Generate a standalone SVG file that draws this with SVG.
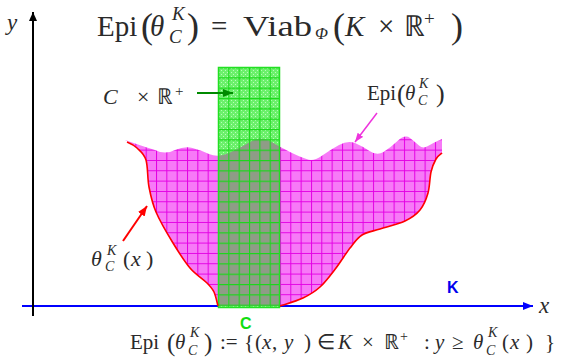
<svg xmlns="http://www.w3.org/2000/svg" xmlns:xlink="http://www.w3.org/1999/xlink" width="561" height="364" viewBox="0 0 561 364">
<style>
.m{font-family:"Liberation Serif","Times New Roman",Times,serif;fill:#2a2a2a}
.i{font-style:italic}
.s{font-family:"Liberation Sans",Arial,sans-serif;font-weight:bold}
</style>
<defs>
<pattern id="pinkPat" patternUnits="userSpaceOnUse" x="218" y="67" width="10.33" height="10.33">
<rect width="10.33" height="10.33" fill="#f77af7"/>
<path d="M0 0.5H10.33M0.5 0V10.33" stroke="#e400e4" stroke-width="1"/>
</pattern>
<pattern id="greenBase" patternUnits="userSpaceOnUse" x="218" y="67" width="4" height="4">
<rect width="4" height="4" fill="#6cf06c"/>
<rect x="1" y="1" width="1" height="1" fill="#b8ffb8"/>
<rect x="3" y="3" width="1" height="1" fill="#b8ffb8"/>
</pattern>
<pattern id="greenGrid" patternUnits="userSpaceOnUse" x="218" y="67" width="10.333" height="10.333">
<path d="M0 0.5H10.333M0.5 0V10.333" stroke="#1ad81a" stroke-width="1.2" fill="none"/>
</pattern>
<path id="epiShape" d="M125,140 L135,143.5 Q145,147 155,150 Q165,155 175,150 Q185,146 192.5,148 Q200,150 209,154 Q218,158 229,153 Q240,148 250,142 Q260,136 270,141 Q280,147 290,152 Q300,157 306.5,159 Q313,162 321.5,156 Q330,150 339,145 Q348,140 355,143 Q362,146 369.5,151 Q377,156 383.5,152 Q390,148 397.5,141 Q405,134 410,138 Q415,142 419,145.5 Q423,149 428,146 Q433,143 437.5,141 L442,139 L442,153 C441,154 437.8,155.8 436,159 C434.2,162.2 432.3,166.3 431,172 C429.7,177.7 429.8,186.7 428,193 C426.2,199.3 423.8,205.3 420,210 C416.2,214.7 411.7,217.8 405,221 C398.3,224.2 387.2,226.7 380,229 C372.8,231.3 367,231.8 362,235 C357,238.2 354.3,242.5 350,248 C345.7,253.5 341,261.5 336,268 C331,274.5 325.5,282 320,287 C314.5,292 309.7,294.8 303,298 C296.3,301.2 283.8,304.7 280,306 L218,306 C217.3,303.7 215.8,295.8 214,292 C212.2,288.2 211,287 207,283 C203,279 195.7,274.7 190,268 C184.3,261.3 178.7,252.3 173,243 C167.3,233.7 160,221.3 156,212 C152,202.7 150.7,195.7 149,187 C147.3,178.3 148,166.5 146,160 C144,153.5 140.5,151.3 137,148 C133.5,144.7 127,141.3 125,140 Z"/>
<clipPath id="clipC"><rect x="218" y="67" width="62" height="241"/></clipPath>
<marker id="ahBlack" markerUnits="userSpaceOnUse" markerWidth="10" markerHeight="10" refX="9" refY="4" orient="auto"><path d="M0,0 L9,4 L0,8 Z" fill="#000"/></marker>
<marker id="ahBlue" markerUnits="userSpaceOnUse" markerWidth="12" markerHeight="10" refX="10" refY="4" orient="auto"><path d="M0,0 L10,4 L0,8 Z" fill="#0000ff"/></marker>
<marker id="ahGreen" markerUnits="userSpaceOnUse" markerWidth="12" markerHeight="10" refX="10" refY="4" orient="auto"><path d="M0,0 L10,4 L0,8 Z" fill="#008a00"/></marker>
<marker id="ahRed" markerUnits="userSpaceOnUse" markerWidth="12" markerHeight="10" refX="10" refY="4" orient="auto"><path d="M0,0 L10,4 L0,8 Z" fill="#ff0000"/></marker>
<marker id="ahMag" markerUnits="userSpaceOnUse" markerWidth="12" markerHeight="10" refX="9" refY="3.5" orient="auto"><path d="M0,0 L9,3.5 L0,7 Z" fill="#ee33dd"/></marker>
</defs>
<rect width="561" height="364" fill="#fff"/>
<g id="axes">
<line x1="22" y1="306" x2="533" y2="306" stroke="#0000ff" stroke-width="2" marker-end="url(#ahBlue)"/>
<line x1="33" y1="316" x2="33" y2="12" stroke="#000" stroke-width="2" marker-end="url(#ahBlack)"/>
<text class="m i" x="7" y="30" font-size="23">y</text>
<text class="m i" x="539" y="313" font-size="23">x</text>
</g>
<g id="region-epi">
<use xlink:href="#epiShape" fill="url(#pinkPat)"/>
</g>
<g id="region-C">
<rect x="218" y="67" width="62" height="241" fill="url(#greenBase)"/>
<g clip-path="url(#clipC)"><use xlink:href="#epiShape" fill="#8f9c87"/></g>
<rect x="218" y="67" width="62" height="241" fill="url(#greenGrid)"/>
<rect x="218.5" y="67.5" width="61" height="240" fill="none" stroke="#22e022" stroke-width="1.5"/>
</g>
<g id="boundary" fill="none" stroke="#ff0000" stroke-width="1.6">
<path d="M127,142 C133.5,144.7 137,148 137,148 C140.5,151.3 144,153.5 146,160 C148,166.5 147.3,178.3 149,187 C150.7,195.7 152,202.7 156,212 C160,221.3 167.3,233.7 173,243 C178.7,252.3 184.3,261.3 190,268 C195.7,274.7 203,279 207,283 C211,287 212.2,288.2 214,292 C215.8,295.8 217.3,303.7 218,306"/>
<path d="M442,153 C441,154 437.8,155.8 436,159 C434.2,162.2 432.3,166.3 431,172 C429.7,177.7 429.8,186.7 428,193 C426.2,199.3 423.8,205.3 420,210 C416.2,214.7 411.7,217.8 405,221 C398.3,224.2 387.2,226.7 380,229 C372.8,231.3 367,231.8 362,235 C357,238.2 354.3,242.5 350,248 C345.7,253.5 341,261.5 336,268 C331,274.5 325.5,282 320,287 C314.5,292 309.7,294.8 303,298 C296.3,301.2 283.8,304.7 280,306"/>
</g>
<g id="title">
<text class="m" x="97" y="36" font-size="29">Epi</text>
<text class="m" x="141" y="38" font-size="36">(</text>
<text class="m i" x="150" y="36" font-size="29">θ</text>
<text class="m i" x="172" y="20" font-size="19">K</text>
<text class="m i" x="169" y="43" font-size="19">C</text>
<text class="m" x="187" y="38" font-size="36">)</text>
<text class="m" x="211" y="36" font-size="29">=</text>
<text class="m" x="243" y="36" font-size="29" textLength="69" lengthAdjust="spacingAndGlyphs">Viab</text>
<text class="m i" x="315" y="39" font-size="17">Φ</text>
<text class="m" x="333" y="38" font-size="36">(</text>
<text class="m i" x="345" y="36" font-size="29">K</text>
<text class="m" x="378" y="36" font-size="29">×</text>
<text class="m" x="404" y="36" font-size="29">ℝ</text>
<text class="m" x="424" y="25" font-size="19">+</text>
<text class="m" x="451" y="38" font-size="36">)</text>
</g>
<g id="label-CxR">
<text class="m i" x="103" y="104" font-size="22">C</text>
<text class="m" x="137" y="104" font-size="22">×</text>
<text class="m" x="157" y="104" font-size="22">ℝ</text>
<text class="m" x="175" y="96" font-size="15">+</text>
</g>
<g id="label-epi">
<text class="m" x="367" y="100" font-size="21">Epi</text>
<text class="m" x="397" y="102" font-size="26">(</text>
<text class="m i" x="405" y="100" font-size="21">θ</text>
<text class="m i" x="419" y="88" font-size="14">K</text>
<text class="m i" x="418" y="105" font-size="14">C</text>
<text class="m" x="436" y="102" font-size="26">)</text>
</g>
<g id="label-theta">
<text class="m i" x="91" y="266" font-size="22">θ</text>
<text class="m i" x="107" y="255" font-size="14">K</text>
<text class="m i" x="105" y="271" font-size="14">C</text>
<text class="m" x="123" y="266" font-size="22">(</text>
<text class="m i" x="131" y="266" font-size="22">x</text>
<text class="m" x="146" y="266" font-size="22">)</text>
</g>
<g id="label-K"><text class="s" x="447" y="293" font-size="16" fill="#0000ee">K</text></g>
<g id="label-C"><text class="s" x="240" y="329" font-size="16" fill="#11dd11">C</text></g>
<g id="formula">
<text class="m" x="130" y="349" font-size="21">Epi</text>
<text class="m" x="167" y="351" font-size="25">(</text>
<text class="m i" x="175" y="349" font-size="21">θ</text>
<text class="m i" x="190" y="337" font-size="14">K</text>
<text class="m i" x="188" y="355" font-size="14">C</text>
<text class="m" x="204" y="351" font-size="25">)</text>
<text class="m" x="220" y="349" font-size="21">:=</text>
<text class="m" x="244" y="349" font-size="21">{</text>
<text class="m" x="255" y="349" font-size="21">(</text>
<text class="m i" x="262" y="349" font-size="21">x</text>
<text class="m" x="272" y="349" font-size="21">,</text>
<text class="m i" x="284" y="349" font-size="21">y</text>
<text class="m" x="304" y="349" font-size="21">)</text>
<text class="m" x="317" y="349" font-size="21">∈</text>
<text class="m i" x="338" y="349" font-size="21">K</text>
<text class="m" x="362" y="349" font-size="21">×</text>
<text class="m" x="384" y="349" font-size="21">ℝ</text>
<text class="m" x="400" y="341" font-size="14">+</text>
<text class="m" x="424" y="349" font-size="21">:</text>
<text class="m i" x="435" y="349" font-size="21">y</text>
<text class="m" x="452" y="349" font-size="21">≥</text>
<text class="m i" x="473" y="349" font-size="21">θ</text>
<text class="m i" x="488" y="337" font-size="14">K</text>
<text class="m i" x="486" y="355" font-size="14">C</text>
<text class="m" x="502" y="349" font-size="21">(</text>
<text class="m i" x="510" y="349" font-size="21">x</text>
<text class="m" x="526" y="349" font-size="21">)</text>
<text class="m" x="545" y="349" font-size="21">}</text>
</g>
<g id="connectors">
<line x1="197" y1="93" x2="233" y2="93" stroke="#008a00" stroke-width="2" marker-end="url(#ahGreen)"/>
<line x1="377" y1="113" x2="355" y2="142" stroke="#ee33dd" stroke-width="1.5" marker-end="url(#ahMag)"/>
<line x1="123" y1="241" x2="147" y2="206" stroke="#ff0000" stroke-width="2" marker-end="url(#ahRed)"/>
</g>
</svg>
